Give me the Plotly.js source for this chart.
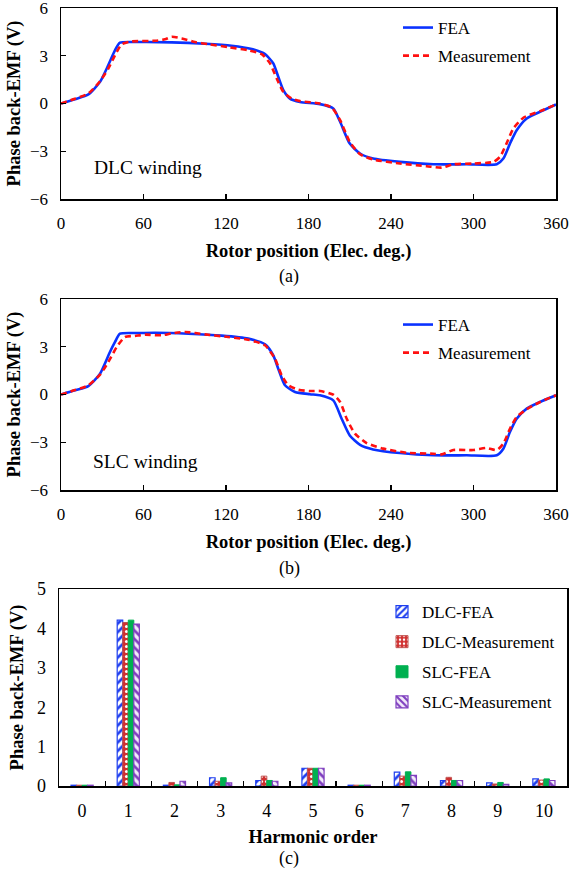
<!DOCTYPE html>
<html><head><meta charset="utf-8">
<script src="https://cdn.plot.ly/plotly-3.0.1.min.js"></script>
<style>html,body{margin:0;padding:0;background:#fff}#chart{width:572px;height:873px}</style>
</head><body><div id="chart"></div>
<script>
// ---- Panel (a): DLC winding ----
const dlcFeaAngle = [0,10.2,19.9,28.4,34.4,39.3,42.9,56.2,80.5,104.7,124,138.7,148.4,154.4,158,161.7,166.5,173.8,188.4,198,203,210,217.5,227,246.5,270.8,295,316.9,321.7,326.5,331.4,338.7,348.4,360];
const dlcFeaEmf   = [0,0.27,0.57,1.36,2.41,3.35,3.82,3.86,3.84,3.75,3.63,3.42,3.1,2.52,1.68,0.84,0.31,0.1,-0.04,-0.31,-1.15,-2.52,-3.14,-3.46,-3.67,-3.82,-3.82,-3.82,-3.46,-2.52,-1.68,-0.94,-0.52,-0.06];
const dlcMeasAngle = [0,10.2,19.9,28.4,34.4,39.3,44.1,51.4,68.4,75.6,80.5,87.8,97.5,107,121.7,136,146,152,156.9,161.7,167.8,173.8,188.4,196.8,203,210,217.5,227,246.5,266,276.8,285.3,300,314.4,319.3,324,329,336.5,348.4,360];
const dlcMeasEmf   = [0,0.3,0.63,1.4,2.2,3.04,3.71,3.9,3.94,4.03,4.19,4.09,3.86,3.73,3.54,3.35,3.1,2.52,1.57,0.73,0.31,0.15,0,-0.25,-1.05,-2.41,-3.19,-3.52,-3.77,-3.94,-4.03,-3.82,-3.77,-3.67,-3.35,-2.52,-1.57,-0.88,-0.48,-0.06];

// ---- Panel (b): SLC winding ----
const slcFeaAngle = [0,10.2,19.9,28.4,35.6,39.3,42.9,56.2,68.4,92.6,116.8,136.2,148.4,154.4,158,162.9,170.2,181,188.4,198,204.1,210,217.5,227,246.5,270.8,295,316.9,321.7,326.5,331.4,338.7,348.4,360];
const slcFeaEmf   = [0,0.26,0.53,1.31,2.67,3.3,3.82,3.86,3.88,3.82,3.7,3.51,3.15,2.46,1.62,0.58,0.16,0.02,-0.05,-0.37,-1.52,-2.57,-3.16,-3.45,-3.68,-3.82,-3.82,-3.82,-3.41,-2.36,-1.52,-0.89,-0.47,-0.05];
const slcMeasAngle = [0,10.2,19.9,28.4,34.4,40.5,46.5,53.8,61.1,73.2,80.5,90.2,104.7,121.7,136.2,148.4,155.6,160.5,165.3,172.6,181,188.4,198,203,207.8,213.8,222.3,234.4,251.4,270.8,276.8,285.3,300,309.6,316.9,321.7,326.5,331.4,338.7,348.4,360];
const slcMeasEmf   = [0,0.28,0.58,1.25,2.04,2.98,3.61,3.68,3.76,3.72,3.84,3.93,3.78,3.61,3.44,3.09,2.25,1.2,0.58,0.3,0.22,0.22,-0.01,-0.47,-1.52,-2.46,-3.05,-3.4,-3.66,-3.72,-3.76,-3.49,-3.49,-3.36,-3.49,-3.09,-2.15,-1.41,-0.93,-0.47,-0.05];

// ---- Panel (c): harmonics ----
const harmonicOrder = ['0','1','2','3','4','5','6','7','8','9','10'];
const hDlcFea  = [0.02,4.21,0.02,0.21,0.14,0.45,0.02,0.35,0.14,0.08,0.18];
const hDlcMeas = [0.02,4.15,0.09,0.12,0.25,0.45,0.02,0.25,0.22,0.05,0.15];
const hSlcFea  = [0.02,4.21,0.03,0.21,0.14,0.45,0.02,0.36,0.14,0.09,0.18];
const hSlcMeas = [0.02,4.11,0.12,0.08,0.12,0.45,0.02,0.27,0.14,0.04,0.14];

const xTickVals = [0,60,120,180,240,300,360];
const yTickVals = [-6,-3,0,3,6];

const FONT = 'Liberation Serif, Times New Roman, serif';
const W = 572, H = 873;
const px2x = p => p / W;
const px2y = p => 1 - p / H;

const feaLine = {color:'#0A32FF', width:2.6, shape:'spline', smoothing:0.6};
const measLine = {color:'#FF1010', width:2.6, dash:'6px,4px', shape:'spline', smoothing:0.6};

const traces = [
  {x:dlcFeaAngle, y:dlcFeaEmf, mode:'lines', name:'FEA', line:feaLine, xaxis:'x', yaxis:'y', legend:'legend', legendgroup:'a1'},
  {x:dlcMeasAngle, y:dlcMeasEmf, mode:'lines', name:'Measurement', line:measLine, xaxis:'x', yaxis:'y', legend:'legend', legendgroup:'a2'},
  {x:slcFeaAngle, y:slcFeaEmf, mode:'lines', name:'FEA', line:feaLine, xaxis:'x2', yaxis:'y2', legend:'legend2', legendgroup:'b1'},
  {x:slcMeasAngle, y:slcMeasEmf, mode:'lines', name:'Measurement', line:measLine, xaxis:'x2', yaxis:'y2', legend:'legend2', legendgroup:'b2'},
  {type:'bar', x:harmonicOrder, y:hDlcFea, name:'DLC-FEA', xaxis:'x3', yaxis:'y3', legend:'legend3', legendgroup:'c1',
   marker:{color:'#1F3FEF', line:{color:'#1F3FEF', width:1.2}, pattern:{shape:'/', fgcolor:'#1F3FEF', bgcolor:'#FFFFFF', size:6, solidity:0.45}}},
  {type:'bar', x:harmonicOrder, y:hDlcMeas, name:'DLC-Measurement', xaxis:'x3', yaxis:'y3', legend:'legend3', legendgroup:'c2',
   marker:{color:'#C0504D', line:{color:'#C0504D', width:1}, pattern:{shape:'.', fgcolor:'#FFFFFF', bgcolor:'#D02F2F', size:5, solidity:0.3}}},
  {type:'bar', x:harmonicOrder, y:hSlcFea, name:'SLC-FEA', xaxis:'x3', yaxis:'y3', legend:'legend3', legendgroup:'c3',
   marker:{color:'#00B050', line:{color:'#00B050', width:1}}},
  {type:'bar', x:harmonicOrder, y:hSlcMeas, name:'SLC-Measurement', xaxis:'x3', yaxis:'y3', legend:'legend3', legendgroup:'c4',
   marker:{color:'#7F3FBF', line:{color:'#7F3FBF', width:1.2}, pattern:{shape:'\\', fgcolor:'#7F3FBF', bgcolor:'#F3ECFA', size:6, solidity:0.45}}}
];

const axBase = {showline:true, mirror:true, linecolor:'#000', linewidth:1.5, showgrid:false, zeroline:false,
  ticks:'inside', ticklen:5, tickwidth:1.2, tickcolor:'#000', automargin:false, ticklabeloverflow:'allow',
  tickfont:{family:FONT, size:17, color:'#000'}};
const titleFont = {family:FONT, size:18.5, color:'#000', weight:'bold'};

function xAxis(domain, anchor){
  return Object.assign({}, axBase, {domain, anchor, range:[0,360], tickmode:'array', tickvals:xTickVals,
    ticklabelstandoff:8,
    title:{text:'Rotor position (Elec. deg.)', font:titleFont, standoff:12}});
}
function yAxis(domain, anchor){
  return Object.assign({}, axBase, {domain, anchor, range:[-6,6], tickmode:'array', tickvals:yTickVals,
    ticklabelstandoff:8,
    title:{text:'Phase back-EMF (V)', font:titleFont, standoff:4}});
}

const legendBase = {bgcolor:'rgba(0,0,0,0)', borderwidth:0, font:{family:FONT, size:17, color:'#000'},
  xanchor:'left', yanchor:'top', traceorder:'grouped'};

const ann = (text, x, y, size) => ({text, x:px2x(x), y:px2y(y), xref:'paper', yref:'paper',
  xanchor:'center', yanchor:'middle', showarrow:false, font:{family:FONT, size, color:'#000'}});

const layout = {
  width:W, height:H, margin:{l:0,r:0,t:0,b:0},
  paper_bgcolor:'#fff', plot_bgcolor:'#fff',
  font:{family:FONT, color:'#000'},
  barmode:'group', bargap:0.52, bargroupgap:0,
  xaxis: xAxis([px2x(61), px2x(556)], 'y'),
  yaxis: yAxis([px2y(199), px2y(8)], 'x'),
  xaxis2: xAxis([px2x(61), px2x(556)], 'y2'),
  yaxis2: yAxis([px2y(490), px2y(299)], 'x2'),
  xaxis3: Object.assign({}, axBase, {domain:[px2x(59), px2x(567)], anchor:'y3', type:'category', range:[-0.5,10.5],
    tickson:'boundaries', ticklabelstandoff:8, tickfont:{family:FONT, size:18, color:'#000'},
    title:{text:'Harmonic order', font:titleFont, standoff:10}}),
  yaxis3: Object.assign({}, axBase, {domain:[px2y(786), px2y(589)], anchor:'x3', range:[0,5], dtick:1, ticks:'',
    ticklabelstandoff:8, tickfont:{family:FONT, size:18, color:'#000'},
    title:{text:'Phase back-EMF (V)', font:titleFont, standoff:8}}),
  legend: Object.assign({}, legendBase, {x:px2x(398), y:px2y(10), tracegroupgap:3}),
  legend2: Object.assign({}, legendBase, {x:px2x(398), y:px2y(307), tracegroupgap:3}),
  legend3: Object.assign({}, legendBase, {x:px2x(382), y:px2y(594), tracegroupgap:5}),
  annotations: [
    ann('DLC winding', 148, 168, 19.5),
    ann('SLC winding', 145, 461, 19.5),
    ann('(a)', 289, 276, 18),
    ann('(b)', 289, 568, 18),
    ann('(c)', 289, 858, 18)
  ]
};

Plotly.newPlot('chart', traces, layout, {staticPlot:true, displayModeBar:false});
</script>
</body></html>
